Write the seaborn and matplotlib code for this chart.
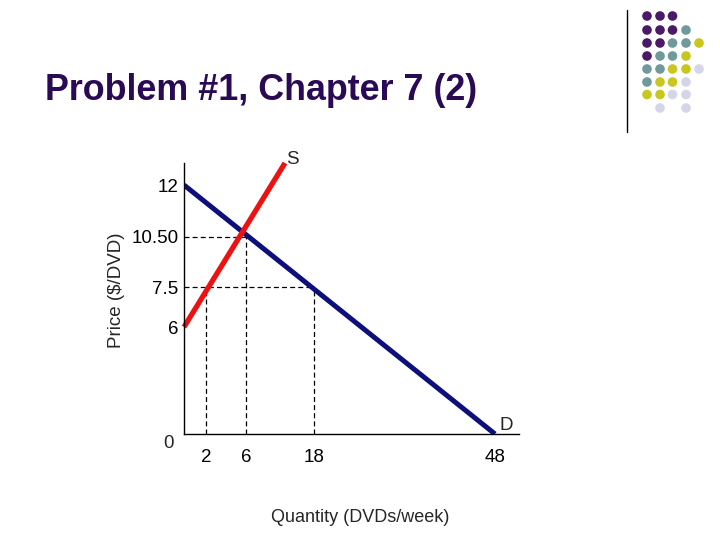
import matplotlib
matplotlib.use("Agg")
import matplotlib.pyplot as plt
import seaborn as sns
import pandas as pd

# ---- data (schematic axis positions, chart is not drawn to scale) ----
q_tick_pos = [22, 62, 130, 311]
q_tick_labels = ["2", "6", "18", "48"]
p_tick_pos = [107, 147, 197.5, 249]
p_tick_labels = ["6", "7.5", "10.50", "12"]

demand_x = [0, 311]
demand_y = [249, 0]
supply_x = [0, 101]
supply_y = [107, 271]

# dashed guide lines
h_guides_y = [197.5, 147]
h_guides_xmax = [62, 130]
v_guides_x = [22, 62, 130]
v_guides_ymax = [147, 197.5, 147]

# logo dot grid (rows of colour codes)
logo_rows = ["PPP..", "PPPT.", "PPTTY", "PTTY.", "TTYYL", "TYYL.", "YYLL.", ".L.L."]
logo_colors = {"P": "#4a1a68", "T": "#6f999b", "Y": "#c9c71f", "L": "#d5d5ea"}

sns.set_theme(style="white")
plt.rcParams["font.family"] = ["Liberation Sans", "DejaVu Sans"]

fig = plt.figure(figsize=(7.2, 5.4), dpi=100)
fig.patch.set_facecolor("white")

ax = fig.add_axes([184 / 720, 1 - 434 / 540, (519 - 184) / 720, (434 - 163) / 540])
ax.set_xlim(0, 335)
ax.set_ylim(0, 271)
ax.set_facecolor("white")

df_d = pd.DataFrame({"q": demand_x, "p": demand_y})
df_s = pd.DataFrame({"q": supply_x, "p": supply_y})

ax.hlines(h_guides_y, 0, h_guides_xmax, colors="black", linestyles=(0, (4, 2.5)), lw=0.9)
ax.vlines(v_guides_x, 0, v_guides_ymax, colors="black", linestyles=(0, (4, 2.5)), lw=0.9)

sns.lineplot(data=df_d, x="q", y="p", ax=ax, color="#0d0f7a", lw=3.6, solid_capstyle="butt")
sns.lineplot(data=df_s, x="q", y="p", ax=ax, color="#ee1111", lw=3.8, solid_capstyle="butt", clip_on=False)

for s in ["top", "right"]:
    ax.spines[s].set_visible(False)
for s in ["left", "bottom"]:
    ax.spines[s].set_color("black")
    ax.spines[s].set_linewidth(1.0)

tick_fs = 13.5
ax.set_xticks(q_tick_pos)
ax.set_xticklabels(q_tick_labels, fontsize=tick_fs)
ax.set_yticks(p_tick_pos)
ax.set_yticklabels(p_tick_labels, fontsize=tick_fs)
ax.tick_params(axis="x", length=0, pad=11, colors="black")
ax.tick_params(axis="y", length=0, pad=4, colors="black")
ax.set_xlabel("")
ax.set_ylabel("")

ax.text(-15, -9, "0", fontsize=tick_fs, ha="center", va="center", clip_on=False)
ax.text(108, 275, "S", fontsize=tick_fs, ha="center", va="center", clip_on=False)
ax.text(322, 8, "D", fontsize=tick_fs, ha="center", va="center", clip_on=False)

fig.text(116 / 720, 1 - 290 / 540, "Price ($/DVD)", rotation=90, fontsize=13.5,
         ha="center", va="center")
fig.text(360 / 720, 1 - 517 / 540, "Quantity (DVDs/week)", fontsize=13,
         ha="center", va="center")

fig.text(45 / 720, 1 - 91 / 540, "Problem #1, Chapter 7 (2)", fontsize=25.8,
         fontweight="bold", color="#2a0a55", ha="left", va="center")

# logo
lax = fig.add_axes([0, 0, 1, 1], zorder=-1)
lax.set_xlim(0, 720)
lax.set_ylim(540, 0)
lax.axis("off")
lax.plot([627, 627], [10, 132], color="black", lw=1.0)
col_x = [647, 660, 672.5, 686, 699]
row_y = [16, 30, 43, 56, 69, 82, 94.5, 108]
xs, ys, cs = [], [], []
for r, row in enumerate(logo_rows):
    for c, code in enumerate(row):
        if code != ".":
            xs.append(col_x[c]); ys.append(row_y[r]); cs.append(logo_colors[code])
lax.scatter(xs, ys, s=48, c=cs, linewidths=0)

fig.savefig("out.png", dpi=100)
